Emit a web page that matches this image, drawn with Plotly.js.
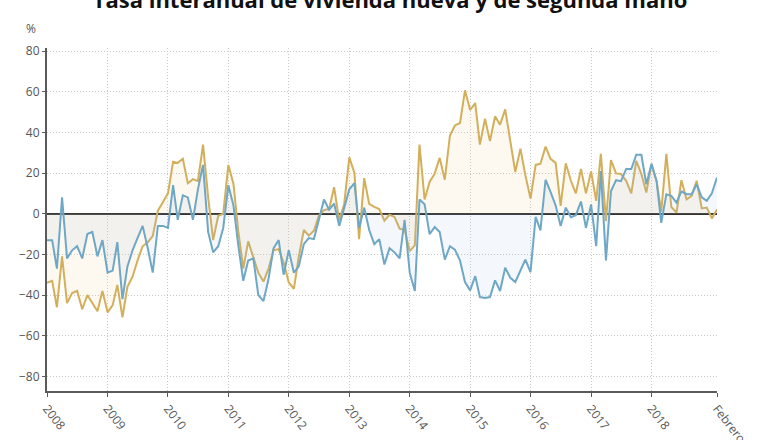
<!DOCTYPE html>
<html>
<head>
<meta charset="utf-8">
<script src="https://cdn.plot.ly/plotly-3.0.1.min.js"></script>
<style>html,body{margin:0;padding:0;background:#fff;}#chart{width:780px;height:440px;}</style>
</head>
<body>
<div id="chart"></div>
<script>
// Monthly series, January 2008 – February 2019 (year-on-year rate, %)
const startYear = 2008;
const nueva = [
  -13, -13, -27, 8, -22, -18, -16, -22, -10, -9, -21, -13,
  -29, -28, -14, -42, -26, -18, -12, -6, -17, -29, -6, -6,
  -7, 14, -3, 9, 8, -3, 12, 24, -9, -19, -16, -7,
  14, 4, -15, -33, -23, -22, -40, -43, -32, -17, -13, -30,
  -18, -29, -26, -15, -12, -12.5, -3, 7, 2, 5, -6, 3,
  12, 15, -7, 3, -8, -15, -12.5, -25, -17, -19, -22, -3,
  -29, -38, 7, 4.6, -10, -6.6, -9, -22.6, -16, -17.7, -23, -33.6,
  -37.7, -30.7, -41, -41.5, -41, -32.8, -38, -26.6, -31.5, -33.6, -28.2, -22.6,
  -28.7, -1.6, -8.2, 16.7, 10.7, 4, -6, 3, -1.7, -0.7, 6, -7,
  4.6, -16, 21, -23, 11, 16.5, 16, 22, 22, 29, 29, 14.5,
  24.5, 16, -4.5, 9.6, 8.8, 5.5, 11, 9.6, 9.6, 14.5, 8, 6.3,
  10, 17.8
];
const segundaMano = [
  -34, -33, -46, -21, -44, -39, -38, -47, -40, -44, -48, -38,
  -48.5, -45, -35, -51, -36, -31, -23, -16, -14, -11, 1.5, 5.6,
  10, 25.6, 25, 27, 15, 17, 16, 34, 8, -13, -1, 0,
  24, 14.6, -8, -27, -13.6, -21.5, -29, -33.4, -27, -18, -17.4, -24,
  -33.8, -37, -21.5, -8, -10.8, -8.4, -1, 1.8, 2.3, 13, -3.4, 4.8,
  27.7, 20, -12.5, 17.5, 4.8, 3.4, 2.3, -3.4, -0.5, -1.6, -7.4, -8,
  -18.4, -15.6, 34, 7, 15.6, 19.7, 27.5, 16.7, 38.5, 43.4, 44.6, 60.7,
  51, 54.4, 34, 46.7, 35.7, 47.9, 43.8, 51.3, 36.4, 20.5, 32, 18.9,
  7.4, 24, 24.6, 33, 27, 25, 3.8, 24.8, 16.2, 10, 22, 10,
  20.8, 6.3, 29.4, -3.6, 26.4, 19.8, 19.5, 16.2, 10, 26, 19.5, 10.4,
  24.5, 16, 1, 29.4, 3.3, 0.5, 16.5, 7, 8.8, 16.2, 2.6, 3,
  -2.3, 2.1
];
const tickDates = ['2008-01-01','2009-01-01','2010-01-01','2011-01-01','2012-01-01','2013-01-01',
  '2014-01-01','2015-01-01','2016-01-01','2017-01-01','2018-01-01','2019-02-01'];
const tickLabels = ['2008','2009','2010','2011','2012','2013','2014','2015','2016','2017','2018','Febrero'];
const yTicks = [-80, -60, -40, -20, 0, 20, 40, 60, 80];

const months = nueva.map(function (_, i) {
  const y = startYear + Math.floor(i / 12);
  const m = (i % 12) + 1;
  return y + '-' + (m < 10 ? '0' + m : m) + '-01';
});

const traces = [
  {
    x: months, y: segundaMano, type: 'scatter', mode: 'lines', name: 'Segunda mano',
    line: {color: '#d3af5c', width: 2}, fill: 'tozeroy', fillcolor: 'rgba(240,205,140,0.12)',
    hoverinfo: 'x+y'
  },
  {
    x: months, y: nueva, type: 'scatter', mode: 'lines', name: 'Nueva',
    line: {color: '#6fa7c6', width: 2}, fill: 'tozeroy', fillcolor: 'rgba(150,180,215,0.10)',
    hoverinfo: 'x+y'
  }
];

const tickFont = {family: 'Open Sans, Noto Sans, sans-serif', size: 12, color: '#555'};

const layout = {
  width: 780, height: 440,
  margin: {l: 47, r: 63, t: 48, b: 49},
  paper_bgcolor: '#fff', plot_bgcolor: '#fff',
  showlegend: false,
  title: {
    text: '<b>Tasa interanual de vivienda nueva y de segunda mano</b>',
    font: {family: 'Open Sans, Noto Sans, sans-serif', size: 22, color: '#111'},
    x: 0.5, xref: 'container', xanchor: 'center',
    y: 1.0, yref: 'container', yanchor: 'middle'
  },
  xaxis: {
    type: 'date',
    range: ['2008-01-01', '2019-02-01'],
    tickmode: 'array', tickvals: tickDates, ticktext: tickLabels,
    tickangle: 52, tickfont: tickFont,
    showgrid: true, gridcolor: '#c8c8c8', griddash: '1px,2px', gridwidth: 1,
    showline: true, linecolor: '#5a5a5a', linewidth: 2,
    ticks: 'outside', ticklen: 4, tickcolor: '#5a5a5a', tickwidth: 1,
    zeroline: false, fixedrange: true
  },
  yaxis: {
    range: [-87.2, 81.5],
    tickmode: 'array', tickvals: yTicks,
    tickfont: tickFont,
    showgrid: true, gridcolor: '#c8c8c8', griddash: '1px,2px', gridwidth: 1,
    zeroline: true, zerolinecolor: '#333', zerolinewidth: 2,
    showline: true, linecolor: '#5a5a5a', linewidth: 2,
    ticks: 'outside', ticklen: 3, tickcolor: '#5a5a5a',
    fixedrange: true
  },
  annotations: [{
    text: '%', xref: 'paper', yref: 'paper', x: -0.024, y: 1.058,
    xanchor: 'center', yanchor: 'middle', showarrow: false,
    font: {family: 'Open Sans, Noto Sans, sans-serif', size: 12, color: '#555'}
  }]
};

Plotly.newPlot('chart', traces, layout, {displayModeBar: false, staticPlot: true});
</script>
</body>
</html>
